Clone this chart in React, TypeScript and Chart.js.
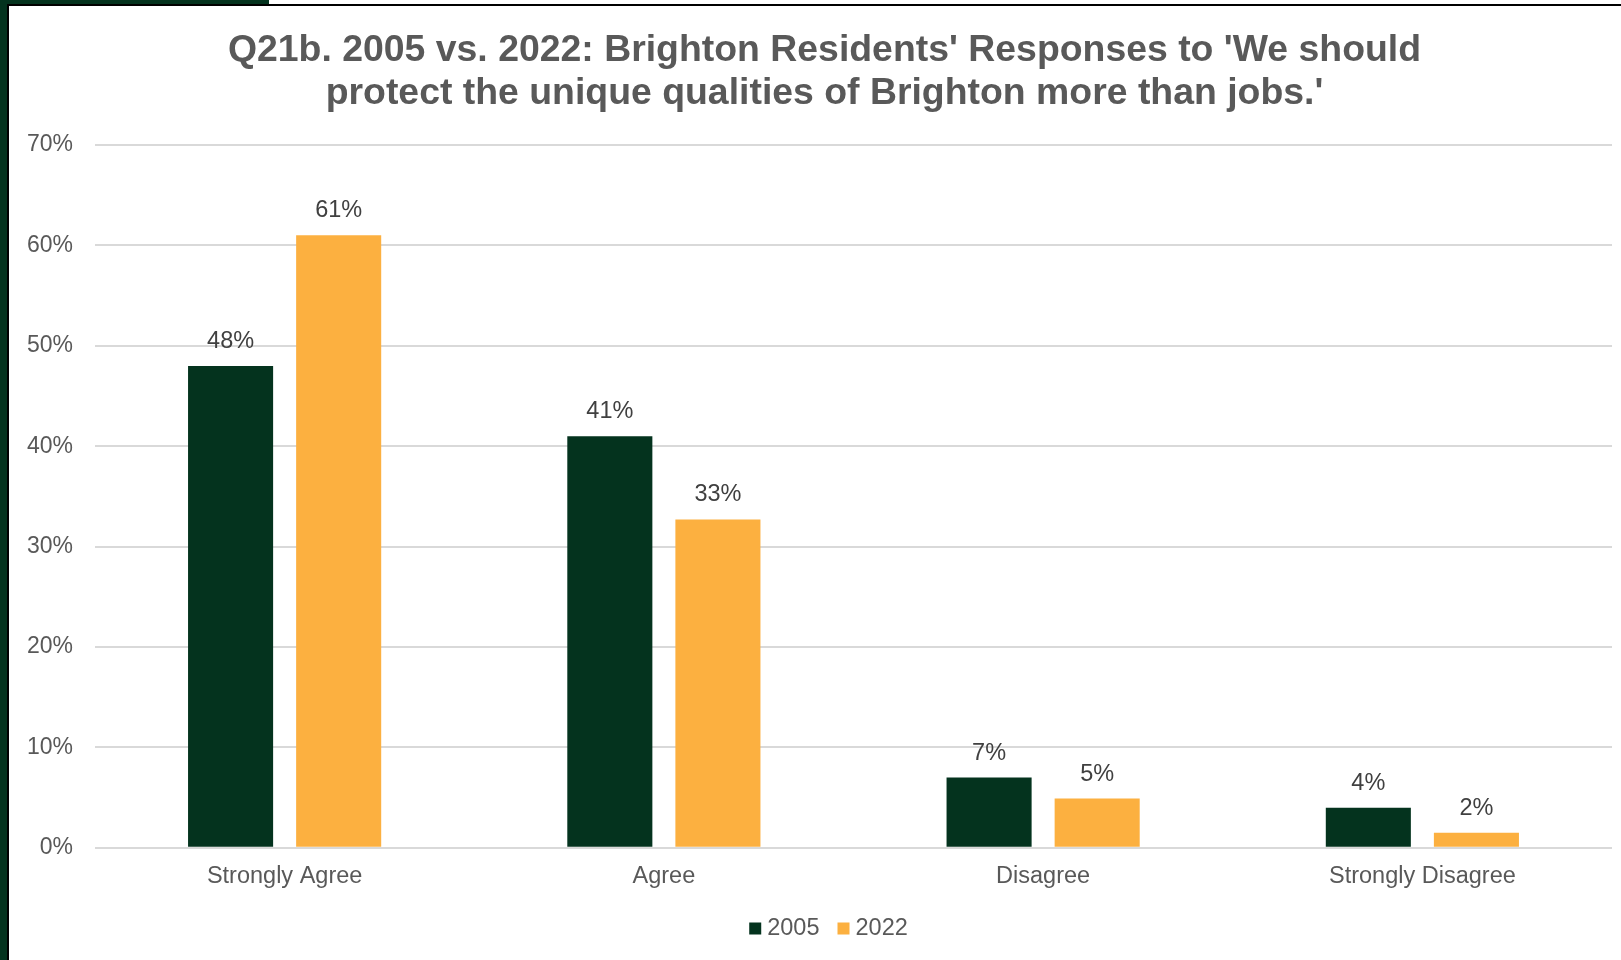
import React, { useEffect, useRef } from "react";
import { Chart, registerables } from "chart.js";

Chart.register(...registerables);

const categories = ["Strongly Agree", "Agree", "Disagree", "Strongly Disagree"];
const values2005 = [48, 41, 7, 4];
const values2022 = [61, 32.7, 4.9, 1.5];
const seriesNames = ["2005", "2022"];
const titleLines = [
  "Q21b. 2005 vs. 2022: Brighton Residents' Responses to 'We should",
  "protect the unique qualities of Brighton more than jobs.'",
];
const yMin = 0;
const yMax = 70;
const yStep = 10;

const GREEN = "#04331E";
const ORANGE = "#FCB040";
const FONT = "'Liberation Sans', Arial, sans-serif";

const dataLabelPlugin = {
  id: "dataLabels",
  afterDatasetsDraw(chart: any) {
    const ctx = chart.ctx;
    ctx.save();
    ctx.font = `23.5px ${FONT}`;
    ctx.fillStyle = "#404040";
    ctx.textAlign = "center";
    ctx.textBaseline = "middle";
    chart.data.datasets.forEach((ds: any, di: number) => {
      const meta = chart.getDatasetMeta(di);
      meta.data.forEach((el: any, i: number) => {
        const v = ds.data[i];
        ctx.fillText(Math.round(v) + "%", el.x, el.y - 24.5);
      });
    });
    ctx.restore();
  },
};

// Title drawn centred on the original (wider) slide frame
const titlePlugin = {
  id: "offsetTitle",
  afterDraw(chart: any) {
    const ctx = chart.ctx;
    ctx.save();
    ctx.font = `bold 37.4px ${FONT}`;
    ctx.fillStyle = "#595959";
    ctx.textAlign = "center";
    ctx.textBaseline = "middle";
    const lh = 37.4 * 1.16;
    titleLines.forEach((line, i) => {
      ctx.fillText(line, 815.5, 23 + lh * i + lh / 2);
    });
    ctx.restore();
  },
};

const legendPlugin = {
  id: "offsetLegend",
  afterDraw(chart: any) {
    const ctx = chart.ctx;
    ctx.save();
    ctx.font = `23.5px ${FONT}`;
    ctx.textBaseline = "middle";
    ctx.textAlign = "left";
    const box = 12;
    const gap = 6;
    const itemGap = 18;
    const items = chart.data.datasets.map((ds: any) => ({
      text: ds.label,
      color: ds.backgroundColor,
      w: ctx.measureText(ds.label).width,
    }));
    const total =
      items.reduce((a: number, it: any) => a + box + gap + it.w, 0) +
      itemGap * (items.length - 1);
    let x = 819.5 - total / 2;
    const cy = 922.5;
    items.forEach((it: any) => {
      ctx.fillStyle = it.color;
      ctx.fillRect(x, cy - box / 2, box, box);
      x += box + gap;
      ctx.fillStyle = "#595959";
      ctx.fillText(it.text, x, cy);
      x += it.w + itemGap;
    });
    ctx.restore();
  },
};

export default function App() {
  const ref = useRef<HTMLCanvasElement | null>(null);

  useEffect(() => {
    if (!ref.current) return;
    const chart = new Chart(ref.current, {
      type: "bar",
      data: {
        labels: categories,
        datasets: [
          {
            label: seriesNames[0],
            data: values2005,
            backgroundColor: GREEN,
            categoryPercentage: 0.57,
            barPercentage: 0.787,
          },
          {
            label: seriesNames[1],
            data: values2022,
            backgroundColor: ORANGE,
            categoryPercentage: 0.57,
            barPercentage: 0.787,
          },
        ],
      },
      options: {
        responsive: false,
        animation: false,
        devicePixelRatio: 1,
        layout: { padding: { left: 18, right: 0, top: 139, bottom: 54 } },
        plugins: {
          title: { display: false },
          legend: { display: false },
          tooltip: { enabled: false },
        },
        scales: {
          x: {
            grid: { display: false, drawTicks: false },
            border: { display: false },
            ticks: {
              color: "#595959",
              font: { family: FONT, size: 23.5 },
              padding: 15,
            },
          },
          y: {
            min: yMin,
            max: yMax,
            afterFit: (s: any) => {
              s.width = 68;
            },
            grid: { color: "#D9D9D9", lineWidth: 2, drawTicks: false },
            border: { display: false },
            ticks: {
              stepSize: yStep,
              color: "#595959",
              font: { family: FONT, size: 23 },
              padding: 22,
              callback: (v: any) => v + "%",
            },
          },
        },
      },
      plugins: [dataLabelPlugin, titlePlugin, legendPlugin],
    });
    return () => chart.destroy();
  }, []);

  return (
    <div
      style={{
        position: "fixed",
        left: 0,
        top: 0,
        width: 1621,
        height: 960,
        background: "#fff",
        overflow: "hidden",
      }}
    >
      <div style={{ position: "absolute", left: 0, top: 0, width: 7, height: 960, background: GREEN }} />
      <div style={{ position: "absolute", left: 0, top: 0, width: 269, height: 4, background: GREEN }} />
      <div style={{ position: "absolute", left: 7, top: 4, width: 2, height: 956, background: "#000" }} />
      <div style={{ position: "absolute", left: 7, top: 4, width: 1614, height: 2, background: "#000" }} />
      <canvas
        ref={ref}
        width={1603}
        height={954}
        style={{ position: "absolute", left: 9, top: 6, width: 1603, height: 954 }}
      />
    </div>
  );
}
